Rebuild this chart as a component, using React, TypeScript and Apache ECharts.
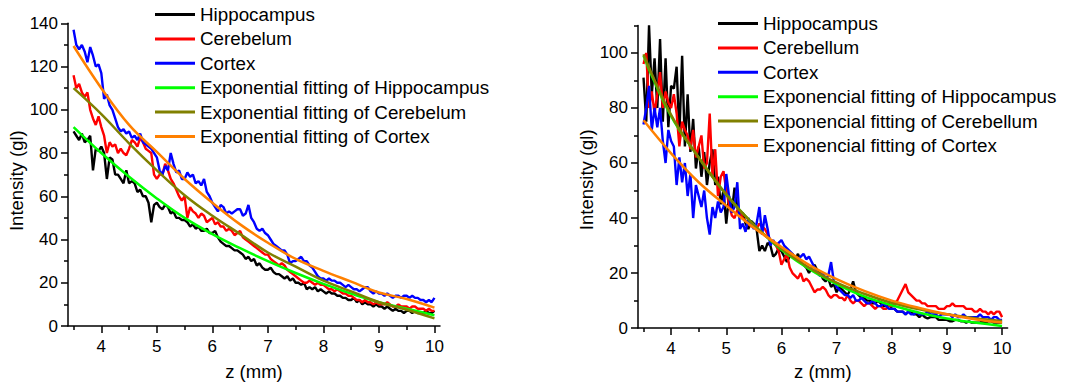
import React, { useEffect, useRef } from "react";
import * as echarts from "echarts";

// Sampling grid of the measured profiles (z in mm)
const Z: number[] = Array.from({ length: 131 }, (_, i) => Math.round((3.5 + i * 0.05) * 100) / 100);
// Sampling grid of the fitted curves
const ZF: number[] = [3.5, 4, 4.5, 5, 5.5, 6, 6.5, 7, 7.5, 8, 8.5, 9, 9.5, 10];

// ---------- Left panel ----------
const leftHippocampus: number[] = [
  90, 88, 86, 89, 85, 86, 88, 72, 82, 81,
  83, 80, 68, 78, 77, 70, 70, 68, 66, 72,
  66, 67, 66, 62, 63, 60, 60, 57, 48, 56,
  57, 55, 54, 56, 55, 52, 53, 50, 50, 49,
  49, 48, 46, 47, 45, 46, 44, 44, 45, 43,
  43, 44, 41, 39, 38, 37, 37, 36, 35, 35,
  34, 33, 31, 32, 30, 31, 28, 29, 27, 26,
  26, 27, 25, 24, 24, 23, 22, 23, 21, 22,
  20, 20, 19, 20, 17, 18, 17, 18, 16, 17,
  16, 15, 16, 15, 15, 14, 14, 13, 13, 12,
  12, 13, 11, 12, 10, 11, 10, 10, 9, 10,
  9, 9, 8, 9, 8, 7, 8, 7, 7, 6,
  7, 7, 6, 7, 6, 6, 6, 7, 6, 6,
  7,
];
const leftCerebelum: number[] = [
  116, 110, 112, 108, 106, 108, 100, 96, 93, 97,
  92, 88, 80, 85, 83, 84, 80, 82, 80, 79,
  82, 86, 85, 83, 87, 85, 82, 81, 80, 70,
  68, 70, 70, 75, 72, 68, 66, 63, 60, 58,
  60, 50, 55, 53, 52, 50, 52, 51, 48, 49,
  50, 47, 48, 46, 46, 44, 45, 44, 42, 43,
  44, 41, 40, 39, 38, 37, 36, 35, 34, 33,
  33, 31, 30, 29, 28, 29, 28, 26, 25, 24,
  23, 22, 21, 20, 20, 21, 20, 19, 20, 19,
  19, 18, 17, 17, 16, 17, 16, 15, 15, 14,
  14, 13, 12, 12, 11, 12, 11, 11, 10, 11,
  10, 10, 10, 11, 10, 9, 9, 10, 9, 9,
  9, 8, 9, 9, 8, 8, 8, 7, 8, 7,
  7,
];
const leftCortex: number[] = [
  137, 130, 128, 130, 127, 122, 129, 125, 120, 121,
  117, 105, 107, 102, 100, 96, 92, 90, 91, 89,
  90, 87, 88, 86, 89, 85, 84, 83, 82, 80,
  78, 72, 70, 74, 72, 80, 75, 71, 72, 68,
  68, 71, 69, 70, 66, 67, 65, 68, 62, 60,
  57, 55, 53, 56, 55, 52, 53, 52, 53, 54,
  54, 51, 52, 56, 50, 48, 45, 44, 45, 43,
  42, 40, 38, 37, 36, 35, 35, 33, 29, 30,
  30, 31, 32, 30, 30, 28, 27, 25, 23, 22,
  22, 21, 22, 21, 21, 20, 20, 19, 18, 19,
  18, 17, 17, 16, 17, 18, 18, 16, 15, 16,
  15, 15, 14, 15, 14, 13, 14, 14, 13, 14,
  14, 13, 14, 13, 13, 12, 12, 11, 12, 11,
  13,
];
const leftFitHippocampus: number[] = [92, 80, 69, 59, 50, 42.5, 36, 30, 24.5, 19.5, 15, 11, 8, 5];
const leftFitCerebelum: number[] = [110, 98, 84.5, 72, 60.5, 51, 42.5, 34, 27.5, 21, 16, 11, 7.5, 3.5];
const leftFitCortex: number[] = [129.5, 110, 93, 80.5, 68, 57, 47, 38.5, 31, 25.5, 20.5, 15.5, 12.5, 8.5];

// ---------- Right panel ----------
const rightHippocampus: number[] = [
  91, 75, 110, 85, 98, 80, 105, 75, 98, 73,
  88, 87, 95, 70, 99, 66, 85, 64, 76, 58,
  66, 55, 64, 52, 60, 65, 52, 55, 45, 50,
  38, 48, 42, 51, 44, 40, 42, 38, 36, 39,
  38, 36, 28, 30, 28, 31, 30, 26, 27, 29,
  28, 26, 24, 26, 27, 25, 27, 24, 23, 22,
  20, 22, 23, 21, 20, 18, 17, 18, 15, 16,
  13, 15, 14, 13, 12, 14, 17, 13, 12, 11,
  11, 10, 10, 9, 9, 10, 9, 8, 8, 9,
  7, 7, 6, 6, 6, 5, 6, 6, 5, 5,
  4, 5, 4, 3.5, 4, 4, 4, 3, 3, 3,
  3, 2.5, 2.5, 3, 3, 2.5, 2.5, 2, 2.5, 2,
  2, 2, 2, 2.5, 2, 2.5, 2.5, 2, 2, 2,
  2,
];
const rightCerebellum: number[] = [
  96, 100, 80, 86, 78, 85, 93, 80, 86, 82,
  80, 85, 78, 66, 75, 72, 70, 65, 72, 62,
  66, 70, 58, 60, 78, 55, 65, 48, 55, 57,
  50, 45, 41, 40, 43, 42, 40, 39, 38, 37,
  37, 36, 38, 37, 36, 34, 32, 31, 30, 28,
  23, 25, 27, 22, 20, 19, 18, 20, 17, 18,
  17, 15, 13, 14, 14, 15, 14, 12, 11, 12,
  12, 11, 11, 10, 12, 10, 9, 10, 10, 9,
  8, 9, 9, 8, 7, 8, 8, 7, 7, 8,
  8, 9, 10, 12, 14, 16, 13, 12, 11, 10,
  10, 9, 9, 8, 8, 8, 8, 7, 7, 7,
  8, 8, 9, 8, 8, 8, 8, 7, 7, 7,
  6, 6, 7, 6, 6, 5, 6, 5, 6, 6,
  4,
];
const rightCortex: number[] = [
  74, 80, 88, 72, 80, 73, 80, 68, 60, 72,
  68, 66, 52, 62, 53, 60, 48, 56, 40, 52,
  48, 44, 50, 40, 34, 44, 40, 46, 42, 44,
  56, 48, 42, 44, 53, 36, 38, 35, 40, 38,
  36, 38, 44, 34, 41, 36, 30, 32, 30, 31,
  32, 30, 29, 28, 27, 25, 25, 26, 27, 25,
  26, 24, 22, 20, 19, 20, 18, 19, 24, 17,
  15, 14, 13, 12, 12, 11, 12, 10, 10, 11,
  10, 9, 9, 10, 9, 8, 8, 9, 8, 7,
  7, 7, 6, 6, 6, 5, 6, 5, 5, 6,
  5, 5, 5, 6, 5, 5, 5, 4, 5, 5,
  5, 5, 4, 5, 4, 4, 5, 4, 4, 4,
  4, 4, 5, 4, 4, 4, 3, 4, 4, 3,
  3,
];
const rightFitHippocampus: number[] = [99, 77, 62, 48.5, 37.5, 28.5, 21.5, 16, 11.5, 8.3, 5.6, 3.5, 2, 0.8];
const rightFitCerebellum: number[] = [99.5, 77.5, 62, 48.5, 37.5, 28.8, 22, 16.5, 12.5, 9.2, 6.8, 5, 3.6, 2.6];
const rightFitCortex: number[] = [75.5, 63.5, 53, 44.5, 36.5, 29.5, 23, 17.8, 13.5, 10, 7.3, 5, 3.2, 2];

// Tick values
const xMajor: number[] = [4, 5, 6, 7, 8, 9, 10];
const xMinor: number[] = [3.5, 4.5, 5.5, 6.5, 7.5, 8.5, 9.5];
const yLeftMajor: number[] = [0, 20, 40, 60, 80, 100, 120, 140];
const yLeftMinor: number[] = [10, 30, 50, 70, 90, 110, 130];
const yRightMajor: number[] = [0, 20, 40, 60, 80, 100];
const yRightMinor: number[] = [10, 30, 50, 70, 90, 110];

const leftNames = [
  "Hippocampus",
  "Cerebelum",
  "Cortex",
  "Exponential fitting of Hippocampus",
  "Exponential fitting of Cerebelum",
  "Exponential fitting of Cortex",
];
const rightNames = [
  "Hippocampus",
  "Cerebellum",
  "Cortex",
  "Exponencial fitting of Hippocampus",
  "Exponencial fitting of Cerebellum",
  "Exponencial fitting of Cortex",
];
const COLORS = ["#000000", "#ff0000", "#0000ff", "#00ff00", "#808000", "#ff8000"];

const FONT = "'Liberation Sans', Arial, sans-serif";

export default function App() {
  const ref = useRef<HTMLDivElement>(null);
  useEffect(() => {
    if (!ref.current) return;
    const chart = echarts.init(ref.current, null, { renderer: "svg" });
    const toPairs = (xs: number[], ys: number[]) => ys.map((y, i) => [xs[i], y]);

    const mkX = (grid: number, nameGap: number) => [
      {
        gridIndex: grid,
        type: "value",
        position: "bottom",
        min: 3.4,
        max: 10.1,
        axisLine: { onZero: false, lineStyle: { color: "#000", width: 1.5 } },
        axisTick: { customValues: xMajor, length: 7, lineStyle: { color: "#000", width: 1.5 } },
        axisLabel: { customValues: xMajor, fontSize: 17, color: "#000", margin: 12, fontFamily: FONT },
        splitLine: { show: false },
        name: "z (mm)",
        nameLocation: "middle",
        nameGap,
        nameTextStyle: { fontSize: 18.5, color: "#000", fontFamily: FONT },
      },
      {
        gridIndex: grid,
        type: "value",
        position: "bottom",
        offset: 0,
        min: 3.4,
        max: 10.1,
        axisLine: { show: false, onZero: false },
        axisTick: { customValues: xMinor, length: 4, lineStyle: { color: "#000", width: 1.5 } },
        axisLabel: { show: false },
        splitLine: { show: false },
      },
    ];
    const mkY = (grid: number, max: number, major: number[], minor: number[], nameGap: number, shift: number) => [
      {
        gridIndex: grid,
        type: "value",
        position: "left",
        min: 0,
        max,
        axisLine: { show: true, onZero: false, lineStyle: { color: "#000", width: 1.5 } },
        axisTick: { show: true, customValues: major, length: 7, lineStyle: { color: "#000", width: 1.5 } },
        axisLabel: { customValues: major, fontSize: 17, color: "#000", margin: 10, fontFamily: FONT },
        splitLine: { show: false },
        name: "Intensity (gl)",
        nameLocation: "middle",
        nameGap,
        nameTextStyle: { fontSize: 18.5, color: "#000", fontFamily: FONT, padding: [0, shift, 0, 0] },
      },
      {
        gridIndex: grid,
        type: "value",
        position: "left",
        offset: 0,
        min: 0,
        max,
        axisLine: { show: false, onZero: false },
        axisTick: { show: true, customValues: minor, length: 4, lineStyle: { color: "#000", width: 1.5 } },
        axisLabel: { show: false },
        splitLine: { show: false },
      },
    ];

    const mkSeries = (names: string[], axisIdx: number, data: number[][], fits: number[][]) => {
      const out: any[] = [];
      data.forEach((ys, k) => {
        out.push({
          type: "line",
          name: names[k],
          xAxisIndex: axisIdx,
          yAxisIndex: axisIdx,
          data: toPairs(Z, ys),
          symbol: "none",
          lineStyle: { color: COLORS[k], width: 2.4 },
          itemStyle: { color: COLORS[k] },
        });
      });
      fits.forEach((ys, k) => {
        out.push({
          type: "line",
          name: names[k + 3],
          xAxisIndex: axisIdx,
          yAxisIndex: axisIdx,
          data: toPairs(ZF, ys),
          smooth: 0.4,
          symbol: "none",
          lineStyle: { color: COLORS[k + 3], width: 2.5 },
          itemStyle: { color: COLORS[k + 3] },
        });
      });
      return out;
    };

    const legendBase = {
      orient: "vertical",
      icon: "rect",
      itemWidth: 40,
      itemHeight: 3,
      itemGap: 5.4,
      textStyle: { fontSize: 18.8, color: "#000", fontFamily: FONT, lineHeight: 18 },
      selectedMode: false,
    };

    chart.setOption({
      animation: false,
      backgroundColor: "#fff",
      grid: [
        { left: 68, top: 23.3, width: 372, height: 309 },
        { left: 638, top: 25.4, width: 369.6, height: 307 },
      ],
      xAxis: [...mkX(0, 36), ...mkX(1, 27)],
      yAxis: [
        ...mkY(0, 140, yLeftMajor, yLeftMinor, 42, 12),
        ...mkY(1, 110, yRightMajor, yRightMinor, 36, 6),
      ],
      legend: [
        { ...legendBase, left: 150, top: 0, data: leftNames },
        { ...legendBase, left: 713, top: 9, data: rightNames },
      ],
      series: [
        ...mkSeries(leftNames, 0, [leftHippocampus, leftCerebelum, leftCortex], [leftFitHippocampus, leftFitCerebelum, leftFitCortex]),
        ...mkSeries(rightNames, 2, [rightHippocampus, rightCerebellum, rightCortex], [rightFitHippocampus, rightFitCerebellum, rightFitCortex]),
      ],
    });
    return () => chart.dispose();
  }, []);
  return (
    <div
      ref={ref}
      style={{ position: "absolute", left: 0, top: 0, width: 1078, height: 386, background: "#fff" }}
    />
  );
}
